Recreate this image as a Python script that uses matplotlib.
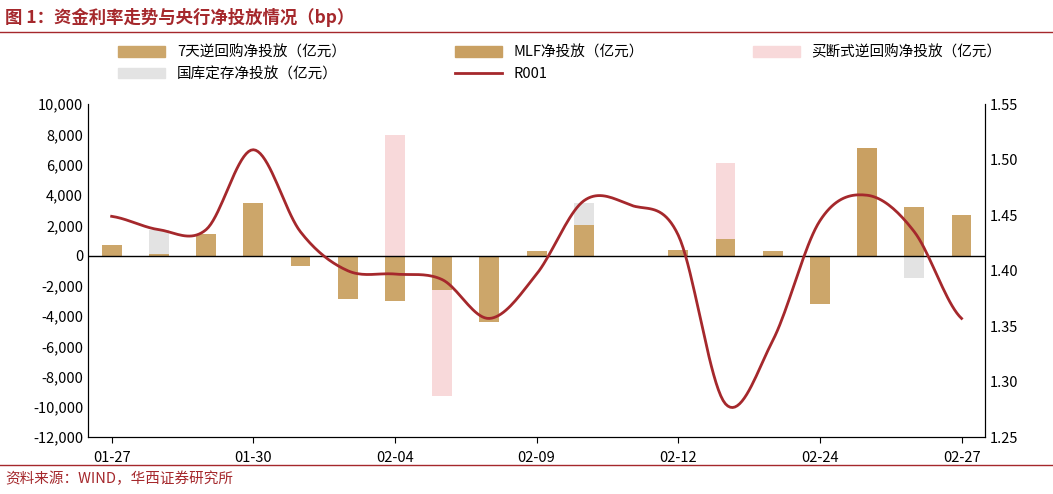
import numpy as np
import matplotlib.pyplot as plt
from matplotlib.lines import Line2D

plt.rcParams['font.family'] = ['Noto Sans CJK SC', 'DejaVu Sans']

dates = ['01-27', '01-28', '01-29', '01-30', '01-31', '02-03', '02-04', '02-05', '02-06', '02-09',
         '02-10', '02-11', '02-12', '02-13', '02-14', '02-24', '02-25', '02-26', '02-27']
repo_7d = [700, 100, 1400, 3500, -700, -2900, -3000, -2300, -4400, 300,
           2000, 0, 400, 1100, 300, -3200, 0, 3200, 2700]
mlf = [0, 0, 0, 0, 0, 0, 0, 0, 0, 0, 0, 0, 0, 0, 0, 0, 7100, 0, 0]
outright = [0, 0, 0, 0, 0, 0, 8000, -9300, 0, 0, 0, 0, 0, 6100, 0, 0, 0, 0, 0]
treasury = [0, 1700, 0, 0, 0, 0, 0, 0, 0, 0, 3500, 0, 0, 0, 0, 0, 0, -1500, 0]
r001 = [1.449, 1.437, 1.437, 1.509, 1.435, 1.400, 1.397, 1.392, 1.357, 1.397,
        1.463, 1.459, 1.432, 1.280, 1.337, 1.445, 1.468, 1.435, 1.357]

dark_red = '#A5282C'
tan = '#CCA66A'

fig = plt.figure(figsize=(10.53, 4.94), dpi=100)
ax = fig.add_axes([0.0836, 0.115, 0.852, 0.674])
x = np.arange(len(dates))
w = 0.42
ax.bar(x, outright, w, color='#F8D9DA', zorder=2)
ax.bar(x, treasury, w, color='#E3E3E3', zorder=2)
ax.bar(x, repo_7d, w, color=tan, zorder=3)
ax.bar(x, mlf, w, color='#C9A062', zorder=3)
ax.axhline(0, color='black', lw=1, zorder=4)
ax.set_ylim(-12000, 10000)
ax.set_yticks(range(-12000, 10001, 2000))
ax.set_yticklabels([f'{v:,}' for v in range(-12000, 10001, 2000)])
ax.set_xlim(-0.5, len(dates) - 0.5)
ax.set_xticks(x[::3])
ax.set_xticklabels(dates[::3])

# smooth R001 line (Catmull-Rom through the read points)
p = np.array(r001)
pp = np.concatenate([[p[0]], p, [p[-1]]])
xs, ys = [], []
for i in range(len(p) - 1):
    t = np.linspace(0, 1, 20, endpoint=False)
    p0, p1, p2, p3 = pp[i], pp[i + 1], pp[i + 2], pp[i + 3]
    y = 0.5 * (2 * p1 + (-p0 + p2) * t + (2 * p0 - 5 * p1 + 4 * p2 - p3) * t ** 2
               + (-p0 + 3 * p1 - 3 * p2 + p3) * t ** 3)
    xs.extend(i + t)
    ys.extend(y)
xs.append(len(p) - 1)
ys.append(p[-1])
ax2 = ax.twinx()
ax2.plot(xs, ys, color=dark_red, lw=2)
ax2.set_ylim(1.25, 1.55)
ax2.set_yticks(np.arange(1.25, 1.551, 0.05))
ax2.set_yticklabels([f'{v:.2f}' for v in np.arange(1.25, 1.551, 0.05)])

for a in (ax, ax2):
    a.tick_params(labelsize=10.5, length=0)
    for s in a.spines.values():
        s.set_color('black')
    a.spines['top'].set_visible(False)
ax.tick_params(axis='x', direction='out', length=4, pad=6)

h7 = plt.Rectangle((0, 0), 1, 1, color=tan)
hm = plt.Rectangle((0, 0), 1, 1, color='#C9A062')
ho = plt.Rectangle((0, 0), 1, 1, color='#F8D9DA')
ht = plt.Rectangle((0, 0), 1, 1, color='#E3E3E3')
hr = Line2D([], [], color=dark_red, lw=2)
# column-major order so rows read: 7天, MLF, 买断式 / 国库, R001
handles = [h7, ht, hm, hr, ho]
labels = ['7天逆回购净投放（亿元）', '国库定存净投放（亿元）', 'MLF净投放（亿元）', 'R001',
          '买断式逆回购净投放（亿元）']
fig.legend(handles, labels, ncol=3, loc='upper left', bbox_to_anchor=(0.1, 0.935),
           frameon=False, fontsize=10.5, columnspacing=7.5, handlelength=3.2, handleheight=0.7)

fig.text(0.005, 0.965, '图 1：资金利率走势与央行净投放情况（bp）', color=dark_red, fontsize=12.5,
         va='center', fontweight='bold')
fig.add_artist(Line2D([0, 1], [0.935, 0.935], color=dark_red, lw=1))
fig.add_artist(Line2D([0, 1], [0.058, 0.058], color=dark_red, lw=1))
fig.text(0.005, 0.03, '资料来源：WIND，华西证券研究所', color=dark_red, fontsize=10.5, va='center')

fig.savefig('out.png', dpi=100)
